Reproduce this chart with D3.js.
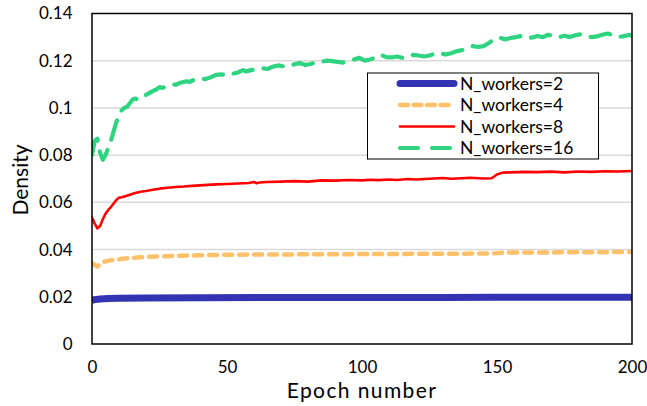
<!DOCTYPE html>
<html><head><meta charset="utf-8">
<script src="https://cdn.jsdelivr.net/npm/d3@7"></script>
<style>body{margin:0;background:#fff;} svg{display:block;} text{font-family:Lato, "Open Sans", sans-serif;fill:#000;}</style>
</head><body><svg id="c" width="647" height="406"></svg>
<script>
// ---- data ----
const yTicks = [0, 0.02, 0.04, 0.06, 0.08, 0.1, 0.12, 0.14];
const yTickLabels = ["0", "0.02", "0.04", "0.06", "0.08", "0.1", "0.12", "0.14"];
const xTicks = [0, 50, 100, 150, 200];
const seriesNames = ["N_workers=2", "N_workers=4", "N_workers=8", "N_workers=16"];

const epochs2 = [0,1,3,6,10,20,40,70,100,130,150,200];
const dens2 =   [0.0185,0.0188,0.0191,0.0193,0.0194,0.0195,0.0196,0.0197,0.0197,0.0197,0.0198,0.0198];

const epochs4 = [0,1,2,3,4,5,7,10,14,18,22,27,33,40,50,60,70,80,90,100,110,120,130,140,148,152,160,170,180,190,200];
const dens4 =   [0.0342,0.0335,0.0328,0.0338,0.0346,0.0350,0.0355,0.0359,0.0364,0.0367,0.0370,0.0372,0.0374,0.0376,0.0378,0.0379,0.0379,0.0380,0.0380,0.0381,0.0381,0.0382,0.0382,0.0383,0.0383,0.0387,0.0388,0.0388,0.0389,0.0389,0.0390];

const epochs8 = [0,1,2,3,4,5,6,7,8,9,10,11,12,14,16,18,20,22,25,28,31,34,37,40,43,46,50,54,58,60,61,62,65,70,75,80,85,90,95,100,103,106,110,113,117,120,125,130,133,137,140,145,148,150,152,155,160,165,170,175,180,185,190,195,200];
const dens8 =   [0.0536,0.0510,0.0490,0.0500,0.0528,0.0552,0.0568,0.0580,0.0595,0.0610,0.0620,0.0622,0.0625,0.0632,0.0640,0.0645,0.0648,0.0652,0.0658,0.0662,0.0665,0.0667,0.0670,0.0672,0.0674,0.0676,0.0678,0.0680,0.0682,0.0686,0.0681,0.0684,0.0686,0.0688,0.0690,0.0688,0.0693,0.0692,0.0695,0.0693,0.0696,0.0694,0.0697,0.0695,0.0699,0.0697,0.0700,0.0703,0.0700,0.0702,0.0704,0.0701,0.0702,0.0718,0.0726,0.0727,0.0729,0.0728,0.0730,0.0727,0.0731,0.0729,0.0732,0.0731,0.0733];

const epochs16 = [0,1,2,3,4,5,6,7,8,9,10,11,12,13,14,15,16,17,18,20,22,24,25,26,28,30,31,33,35,36,38,40,42,44,46,48,50,52,54,56,57,59,61,63,65,67,69,71,73,75,77,79,81,83,85,87,89,91,93,95,97,99,101,103,105,107,109,111,113,115,117,119,121,123,125,127,129,131,133,135,137,139,141,143,145,147,149,151,153,155,157,159,161,163,165,167,169,171,173,175,177,179,181,183,185,187,189,191,193,195,197,199,200];
const dens16 =   [0.0800,0.0860,0.0870,0.0810,0.0780,0.0800,0.0830,0.0860,0.0900,0.0940,0.0970,0.0990,0.1000,0.1005,0.1020,0.1035,0.1040,0.1035,0.1040,0.1055,0.1068,0.1080,0.1088,0.1085,0.1092,0.1100,0.1098,0.1108,0.1113,0.1110,0.1120,0.1125,0.1122,0.1130,0.1140,0.1142,0.1138,0.1145,0.1150,0.1160,0.1155,0.1160,0.1165,0.1168,0.1165,0.1175,0.1180,0.1176,0.1178,0.1185,0.1190,0.1182,0.1186,0.1193,0.1196,0.1200,0.1198,0.1195,0.1192,0.1200,0.1205,0.1212,0.1200,0.1205,0.1213,0.1225,0.1215,0.1214,0.1218,0.1212,0.1218,0.1225,0.1222,0.1218,0.1222,0.1230,0.1232,0.1226,0.1232,0.1240,0.1245,0.1252,0.1262,0.1258,0.1262,0.1275,0.1292,0.1298,0.1290,0.1296,0.1300,0.1305,0.1296,0.1298,0.1305,0.1300,0.1310,0.1302,0.1300,0.1306,0.1300,0.1308,0.1312,0.1305,0.1300,0.1303,0.1310,0.1315,0.1308,0.1300,0.1304,0.1310,0.1305];

// ---- layout ----
const svg = d3.select("#c");
const L = 92, R = 632, T = 13.5, B = 344;
const x = d3.scaleLinear().domain([0, 200]).range([L, R]);
const y = d3.scaleLinear().domain([0, 0.14]).range([B, T]);

// gridlines
svg.append("g").selectAll("line").data(yTicks.slice(1, -1)).join("line")
  .attr("x1", L).attr("x2", R).attr("y1", d => y(d)).attr("y2", d => y(d))
  .attr("stroke", "#d9d9d9").attr("stroke-width", 1.5);

// y axis labels
const yAxis = d3.axisLeft(y).tickValues(yTicks).tickFormat((d, i) => yTickLabels[i]).tickSize(0).tickPadding(19.5);
svg.append("g").attr("transform", `translate(${L},0)`).call(yAxis)
  .call(g => g.select(".domain").remove())
  .call(g => g.selectAll("text").attr("font-size", 17).attr("font-family", "Lato").attr("fill", "#000"));

const xAxis = d3.axisBottom(x).tickValues(xTicks).tickSize(0);
svg.append("g").attr("transform", `translate(0,${B})`).call(xAxis)
  .call(g => g.select(".domain").remove())
  .call(g => g.selectAll("text").attr("font-size", 17).attr("font-family", "Lato").attr("fill", "#000")
    .attr("y", 29).attr("dy", 0));

// series
const styles = [
  {c: "#3333b3", w: 7, dash: null},
  {c: "#ffc06a", w: 4.5, dash: "8,7"},
  {c: "#ff0000", w: 2.6, dash: null},
  {c: "#2ed47f", w: 4.2, dash: "20,11"}
];
const data = [
  epochs2.map((e, i) => [e, dens2[i]]),
  epochs4.map((e, i) => [e, dens4[i]]),
  epochs8.map((e, i) => [e, dens8[i]]),
  epochs16.map((e, i) => [e, dens16[i]])
];
const line = d3.line().x(d => x(d[0])).y(d => y(d[1]));
svg.append("defs").append("clipPath").attr("id", "clip").append("rect")
  .attr("x", L).attr("y", T).attr("width", R - L).attr("height", B - T);
const gl = svg.append("g").attr("clip-path", "url(#clip)");
data.forEach((d, i) => {
  const s = styles[i];
  gl.append("path").attr("d", line(d)).attr("fill", "none")
    .attr("stroke", s.c).attr("stroke-width", s.w).attr("stroke-linejoin", "round")
    .attr("stroke-linecap", i === 0 ? "butt" : "round")
    .attr("stroke-dasharray", s.dash);
});

// frame
svg.append("rect").attr("x", L).attr("y", T).attr("width", R - L).attr("height", B - T)
  .attr("fill", "none").attr("stroke", "#000").attr("stroke-width", 1.5);

// axis titles
svg.append("text").attr("x", 362).attr("y", 398).attr("text-anchor", "middle")
  .attr("font-size", 21).attr("letter-spacing", 1.4).text("Epoch number");
svg.append("text").attr("transform", "translate(28,180) rotate(-90)").attr("text-anchor", "middle")
  .attr("font-size", 21).text("Density");

// legend
const lg = svg.append("g");
lg.append("rect").attr("x", 367.5).attr("y", 73).attr("width", 231).attr("height", 86)
  .attr("fill", "#fff").attr("stroke", "#000").attr("stroke-width", 1);
seriesNames.forEach((n, i) => {
  const s = styles[i];
  const yy = 83.5 + i * 21.5;
  lg.append("line").attr("x1", 400).attr("x2", 454).attr("y1", yy).attr("y2", yy)
    .attr("stroke", s.c).attr("stroke-width", s.w).attr("stroke-linecap", "round")
    .attr("stroke-dasharray", i === 1 ? "8,5.5" : (i === 3 ? "18,14" : null));
  lg.append("text").attr("x", 460).attr("y", yy + 6).attr("font-size", 17.5).text(n);
});
</script></body></html>
